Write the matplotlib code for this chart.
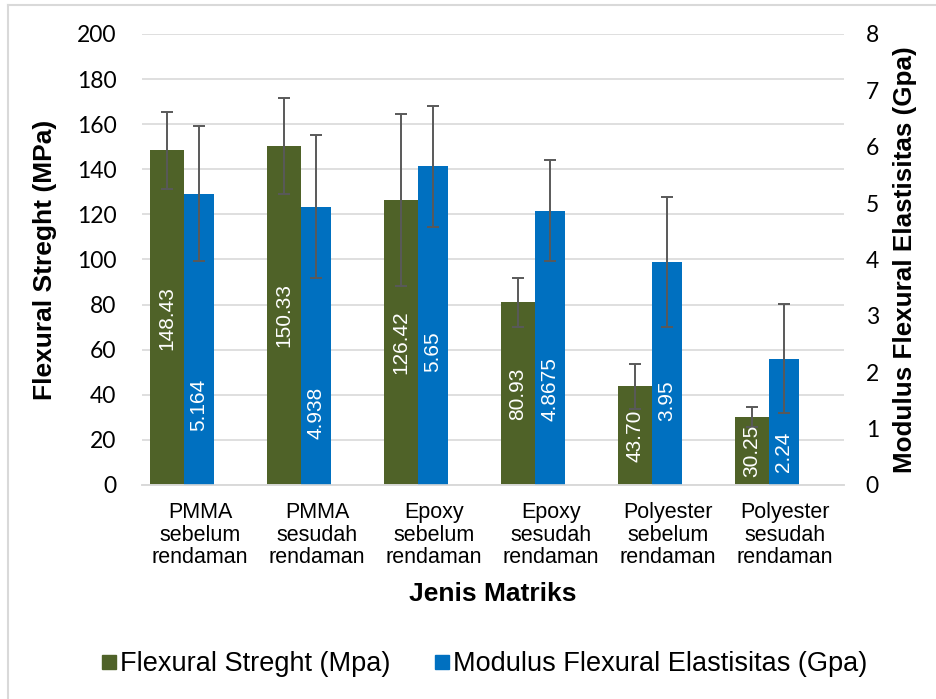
import matplotlib.pyplot as plt
from matplotlib.lines import Line2D
import numpy as np

# Data
categories = ["PMMA\nsebelum\nrendaman", "PMMA\nsesudah\nrendaman",
              "Epoxy\nsebelum\nrendaman", "Epoxy\nsesudah\nrendaman",
              "Polyester\nsebelum\nrendaman", "Polyester\nsesudah\nrendaman"]
strength = [148.43, 150.33, 126.42, 80.93, 43.70, 30.25]
strength_err = [17, 21.3, 38, 11, 10, 4.5]
strength_labels = ["148.43", "150.33", "126.42", "80.93", "43.70", "30.25"]
modulus = [5.164, 4.938, 5.65, 4.8675, 3.95, 2.24]
modulus_err = [1.2, 1.27, 1.07, 0.9, 1.15, 0.97]
modulus_labels = ["5.164", "4.938", "5.65", "4.8675", "3.95", "2.24"]

green = "#4F6228"
blue = "#0070C0"
grid_c = "#D9D9D9"
err_c = "#595959"

plt.rcParams['font.family'] = ['Liberation Sans', 'DejaVu Sans']

fig = plt.figure(figsize=(9.36, 6.99), dpi=100)
ax = fig.add_axes([0.1512, 0.3062, 0.75, 0.6452])
ax2 = ax.twinx()

x = np.arange(len(categories))

# bars (green on left axis, blue on right axis)
ax.bar(x - 0.43, strength, width=0.29, align='edge', color=green, zorder=2)
ax.errorbar(x - 0.285, strength, yerr=strength_err, fmt='none', ecolor=err_c,
            elinewidth=1.4, capsize=4.3, capthick=1.4, zorder=3)
ax2.bar(x - 0.14, modulus, width=0.26, align='edge', color=blue, zorder=2)
ax2.errorbar(x - 0.01, modulus, yerr=modulus_err, fmt='none', ecolor=err_c,
             elinewidth=1.4, capsize=4.3, capthick=1.4, zorder=3)

# value labels
for xi, v, t in zip(x, strength, strength_labels):
    ax.text(xi - 0.285, v / 2, t, rotation=90, ha='center', va='center',
            color='white', fontsize=15)
blue_label_frac = [0.275, 0.26, 0.42, 0.35, 0.38, 0.26]
for xi, v, t, f in zip(x, modulus, modulus_labels, blue_label_frac):
    ax2.text(xi - 0.01, v * f, t, rotation=90, ha='center', va='center',
             color='white', fontsize=15)

ax.set_xlim(-0.5, 5.5)
ax.set_ylim(0, 200)
ax2.set_ylim(0, 8)
ax.set_yticks(np.arange(0, 201, 20))
ax2.set_yticks(np.arange(0, 9, 1))
ax.set_xticks(x)
ax.set_xticklabels(categories, fontsize=15.5, linespacing=1.12)

ax.yaxis.grid(True, color=grid_c, linewidth=1.2)
ax.set_axisbelow(True)
for a in (ax, ax2):
    for s in ('top', 'left', 'right'):
        a.spines[s].set_visible(False)
    a.spines['bottom'].set_color(grid_c)
    a.spines['bottom'].set_linewidth(1.2)
ax.tick_params(axis='both', length=0)
ax2.tick_params(axis='both', length=0)
ax.tick_params(axis='x', pad=12)
ax.tick_params(axis='y', pad=18, labelsize=16.5)
ax2.tick_params(axis='y', pad=16, labelsize=16.5)
for lab in ax.get_yticklabels() + ax2.get_yticklabels():
    lab.set_family(['Lato', 'DejaVu Sans'])

ax.set_xlabel("Jenis Matriks", fontsize=19, fontweight='bold', labelpad=10)
ax.set_ylabel("Flexural Streght (MPa)", fontsize=19, fontweight='bold', labelpad=14)
ax2.set_ylabel("Modulus Flexural Elastisitas (Gpa)", fontsize=18.7, fontweight='bold', labelpad=10)

handles = [Line2D([], [], marker='s', linestyle='none', color=green, markersize=10),
           Line2D([], [], marker='s', linestyle='none', color=blue, markersize=10)]
fig.legend(handles, ["Flexural Streght (Mpa)", "Modulus Flexural Elastisitas (Gpa)"],
           loc='center', bbox_to_anchor=(0.517, 0.05), ncol=2, frameon=False,
           fontsize=19.5, handlelength=0.6, handletextpad=0.1, columnspacing=1.6)

# chart border (light gray, cropped at right and bottom)
fig.add_artist(Line2D([8 / 936, 8 / 936], [0, 1 - 5 / 699], color=grid_c, linewidth=1.5,
                      transform=fig.transFigure))
fig.add_artist(Line2D([8 / 936, 1], [1 - 5 / 699, 1 - 5 / 699], color=grid_c, linewidth=1.5,
                      transform=fig.transFigure))

plt.savefig("out.png", dpi=100)
